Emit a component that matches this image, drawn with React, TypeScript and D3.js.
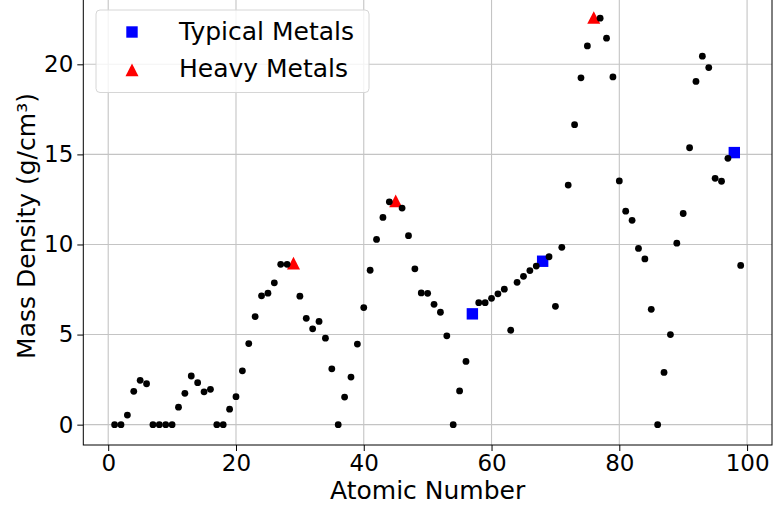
import React, { useEffect, useRef } from 'react';
import * as d3 from 'd3';

// atomic numbers and mass densities (g/cm^3), gases set to 0
const atomicNumbers = [
  1, 2, 3, 4, 5, 6, 7, 8, 9, 10, 11, 12, 13, 14, 15, 16, 17, 18, 19, 20,
  21, 22, 23, 24, 25, 26, 27, 28, 29, 30, 31, 32, 33, 34, 35, 36, 37, 38, 39, 40,
  41, 42, 43, 44, 45, 46, 47, 48, 49, 50, 51, 52, 53, 54, 55, 56, 57, 58, 59, 60,
  61, 62, 63, 64, 65, 66, 67, 68, 69, 70, 71, 72, 73, 74, 75, 76, 77, 78, 79, 80,
  81, 82, 83, 84, 85, 86, 87, 88, 89, 90, 91, 92, 93, 94, 95, 96, 97, 98, 99,
];
const densities = [
  0, 0, 0.53, 1.85, 2.46, 2.27, 0, 0, 0, 0, 0.97, 1.74, 2.7, 2.33, 1.82, 1.96, 0, 0, 0.86, 1.55,
  2.99, 4.5, 6.0, 7.15, 7.3, 7.87, 8.9, 8.9, 8.96, 7.13, 5.9, 5.32, 5.73, 4.8, 3.1, 0, 1.53, 2.64, 4.47, 6.5,
  8.57, 10.28, 11.5, 12.37, 12.41, 12.02, 10.49, 8.65, 7.31, 7.29, 6.68, 6.24, 4.93, 0, 1.87, 3.51, 6.15, 6.77, 6.77, 7.01,
  7.26, 7.52, 5.24, 7.9, 8.23, 8.55, 8.8, 9.07, 9.32, 6.57, 9.84, 13.3, 16.65, 19.25, 21.02, 22.59, 22.56, 21.45, 19.3, 13.53,
  11.85, 11.34, 9.78, 9.2, 6.4, 0, 2.9, 5.0, 10.07, 11.72, 15.37, 19.05, 20.45, 19.82, 13.67, 13.51, 14.78, 15.1, 8.84,
];

const typicalMetals = [57, 68, 98];
const heavyMetals = [29, 45, 76];
const xTicks = [0, 20, 40, 60, 80, 100];
const yTicks = [0, 5, 10, 15, 20];

const App = () => {
  const ref = useRef(null);

  useEffect(() => {
    const W = 773, H = 510;
    const left = 83.3, right = 772, top = -2.7, bottom = 445;

    d3.select(ref.current).selectAll('*').remove();
    const svg = d3.select(ref.current)
      .append('svg')
      .attr('width', W)
      .attr('height', H)
      .style('position', 'absolute')
      .style('left', 0)
      .style('top', 0)
      .style('font-family', '"DejaVu Sans", sans-serif');

    const pts = atomicNumbers.map((z, i) => ({ z, d: densities[i] }));
    const xMin = d3.min(atomicNumbers), xMax = d3.max(atomicNumbers);
    const yMax = d3.max(densities);
    const xPad = (xMax - xMin) * 0.05, yPad = yMax * 0.05;

    const x = d3.scaleLinear().domain([xMin - xPad, xMax + xPad]).range([left, right]);
    const y = d3.scaleLinear().domain([0 - yPad, yMax + yPad]).range([bottom, top]);

    // grid
    const grid = svg.append('g').attr('stroke', '#c4c4c4').attr('stroke-width', 1.1);
    xTicks.forEach(t => {
      grid.append('line').attr('x1', x(t)).attr('x2', x(t)).attr('y1', top).attr('y2', bottom);
    });
    yTicks.forEach(t => {
      grid.append('line').attr('x1', left).attr('x2', right).attr('y1', y(t)).attr('y2', y(t));
    });

    // axes
    const xAxis = svg.append('g')
      .attr('transform', `translate(0,${bottom})`)
      .call(d3.axisBottom(x).tickValues(xTicks).tickSize(6).tickPadding(4).tickSizeOuter(0));
    const yAxis = svg.append('g')
      .attr('transform', `translate(${left},0)`)
      .call(d3.axisLeft(y).tickValues(yTicks).tickSize(6).tickPadding(4).tickSizeOuter(0));
    [xAxis, yAxis].forEach(a => {
      a.select('.domain').remove();
      a.selectAll('text').style('font-size', '23px').style('font-family', '"DejaVu Sans", sans-serif').attr('fill', '#000');
      a.selectAll('line').attr('stroke', '#000');
    });

    // spines
    svg.append('rect')
      .attr('x', left).attr('y', top)
      .attr('width', right - left).attr('height', bottom - top)
      .attr('fill', 'none').attr('stroke', '#000').attr('stroke-width', 1);

    const special = new Set([...typicalMetals, ...heavyMetals]);
    const lookup = z => densities[atomicNumbers.indexOf(z)];

    // typical metals (squares)
    svg.selectAll('.sq').data(typicalMetals).enter().append('rect')
      .attr('x', z => x(z) - 5.7).attr('y', z => y(lookup(z)) - 5.7)
      .attr('width', 11.4).attr('height', 11.4)
      .attr('fill', '#0000ff');

    // heavy metals (triangles)
    const tri = d3.symbol().type(d3.symbolTriangle).size(75);
    svg.selectAll('.tri').data(heavyMetals).enter().append('path')
      .attr('d', 'M0,-6.5L6.5,6.2L-6.5,6.2Z')
      .attr('transform', z => `translate(${x(z)},${y(lookup(z))})`)
      .attr('fill', '#ff0000');

    // other elements
    svg.selectAll('.dot').data(pts.filter(p => !special.has(p.z))).enter().append('circle')
      .attr('cx', p => x(p.z)).attr('cy', p => y(p.d)).attr('r', 3.4)
      .attr('fill', '#000');

    // axis labels
    svg.append('text')
      .attr('x', (left + right) / 2).attr('y', 499)
      .attr('text-anchor', 'middle')
      .style('font-size', '25px')
      .text('Atomic Number');
    svg.append('text')
      .attr('transform', `translate(35,226) rotate(-90)`)
      .attr('text-anchor', 'middle')
      .style('font-size', '25px')
      .text('Mass Density (g/cm³)');

    // legend
    const lg = svg.append('g');
    lg.append('rect')
      .attr('x', 96).attr('y', 10).attr('width', 273).attr('height', 82.5)
      .attr('rx', 4)
      .attr('fill', '#fff').attr('fill-opacity', 0.8)
      .attr('stroke', '#d6d6d6').attr('stroke-width', 1);
    lg.append('rect')
      .attr('x', 132 - 5.7).attr('y', 32 - 5.7).attr('width', 11.4).attr('height', 11.4)
      .attr('fill', '#0000ff');
    lg.append('path')
      .attr('d', 'M0,-6.5L6.5,6.2L-6.5,6.2Z')
      .attr('transform', 'translate(132,70)')
      .attr('fill', '#ff0000');
    lg.append('text').attr('x', 179).attr('y', 39.5).style('font-size', '25px').text('Typical Metals');
    lg.append('text').attr('x', 179).attr('y', 77).style('font-size', '25px').text('Heavy Metals');
  }, []);

  return <div ref={ref} />;
};

export default App;
